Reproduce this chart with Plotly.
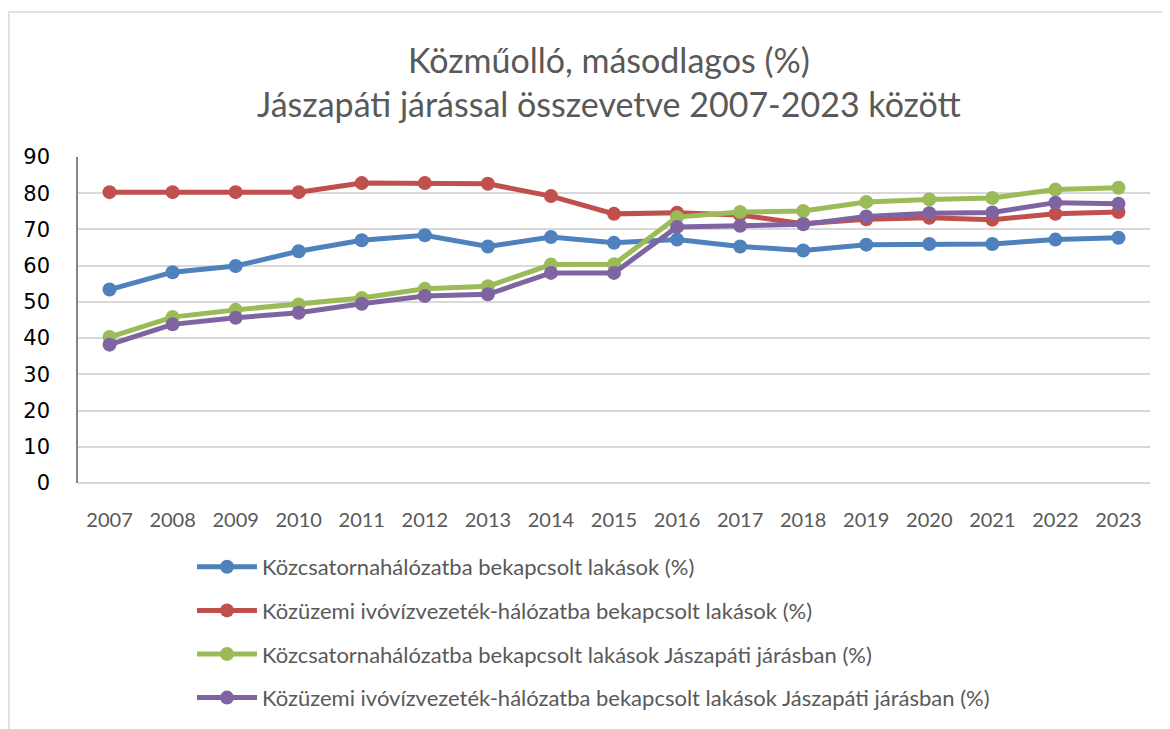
import plotly.graph_objects as go

years = [str(y) for y in range(2007, 2024)]
kozcsatorna = [53.4, 58.2, 59.9, 64.0, 67.0, 68.4, 65.3, 67.9, 66.3, 67.2, 65.3, 64.2, 65.8, 66.0, 66.0, 67.2, 67.7]
ivoviz = [80.3, 80.3, 80.3, 80.3, 82.8, 82.8, 82.6, 79.2, 74.3, 74.6, 74.0, 71.6, 72.8, 73.2, 72.7, 74.3, 74.8]
kozcsatorna_jaszapati = [40.3, 45.8, 47.8, 49.3, 51.1, 53.6, 54.3, 60.3, 60.4, 73.4, 74.8, 75.1, 77.6, 78.3, 78.7, 81.0, 81.5]
ivoviz_jaszapati = [38.2, 43.8, 45.6, 47.0, 49.5, 51.6, 52.1, 58.0, 58.0, 70.7, 71.0, 71.4, 73.6, 74.5, 74.7, 77.4, 77.1]

names = [
    "Közcsatornahálózatba bekapcsolt lakások (%)",
    "Közüzemi ivóvízvezeték-hálózatba bekapcsolt lakások (%)",
    "Közcsatornahálózatba bekapcsolt lakások Jászapáti járásban (%)",
    "Közüzemi ivóvízvezeték-hálózatba bekapcsolt lakások Jászapáti járásban (%)",
]
series = [kozcsatorna, ivoviz, kozcsatorna_jaszapati, ivoviz_jaszapati]
colors = ["#4F81BD", "#C0504D", "#9BBB59", "#8064A2"]

fig = go.Figure()
for i, (n, s, c) in enumerate(zip(names, series, colors)):
    fig.add_trace(go.Scatter(
        x=years, y=s, name=n, mode="lines+markers",
        line=dict(color=c, width=5),
        marker=dict(color=c, size=14),
        legendgroup=f"g{i}",
    ))

# figure is placed at an 8px page offset; coordinates below are figure coords
W, H = 1162, 721
L, R, T, B = 70, 20, 149, 246
PW = W - L - R   # 1072
PH = H - T - B   # 326

def py(fig_y):
    return (H - B - fig_y) / PH

def px(fig_x):
    return (fig_x - L) / PW

font_family = "Lato, sans-serif"
fig.update_layout(
    template="none",
    width=W, height=H,
    margin=dict(l=L, r=R, t=T, b=B, autoexpand=False),
    paper_bgcolor="white", plot_bgcolor="white",
    font=dict(family=font_family, color="#595959"),
    showlegend=True,
    legend=dict(
        orientation="v", x=px(184), xanchor="left", y=py(538), yanchor="top",
        font=dict(size=22, color="#595959", family=font_family),
        tracegroupgap=12, itemwidth=60, bgcolor="rgba(0,0,0,0)",
    ),
    xaxis=dict(
        type="category", range=[-0.5, len(years) - 0.5], autorange=False,
        showgrid=False, showline=False, zeroline=False, ticks="",
        tickfont=dict(size=20, color="#595959"),
        ticklabelstandoff=23, automargin=False,
    ),
    yaxis=dict(
        range=[0, 90], autorange=False, dtick=10, tick0=0,
        showgrid=True, gridcolor="#D9D9D9", gridwidth=1.5,
        zeroline=True, zerolinecolor="#D9D9D9", zerolinewidth=1.5,
        showline=True, linecolor="#868686", linewidth=1.5,
        tickfont=dict(size=21, color="black", family="DejaVu Sans"), ticks="",
        ticklabelstandoff=22, automargin=False,
    ),
    annotations=[
        dict(text="Közműolló, másodlagos (%)", xref="paper", yref="paper",
             x=px(601), y=py(52), xanchor="center", yanchor="middle",
             showarrow=False, font=dict(size=34, color="#595959", family=font_family)),
        dict(text="Jászapáti járással összevetve 2007-2023 között", xref="paper", yref="paper",
             x=px(601), y=py(95), xanchor="center", yanchor="middle",
             showarrow=False, font=dict(size=34, color="#595959", family=font_family)),
    ],
    shapes=[
        dict(type="rect", xref="paper", yref="paper",
             x0=px(1), x1=px(1175), y0=py(740), y1=py(4),
             line=dict(color="#D9D9D9", width=1.5), layer="below"),
    ],
)

fig.write_html("out.html")
